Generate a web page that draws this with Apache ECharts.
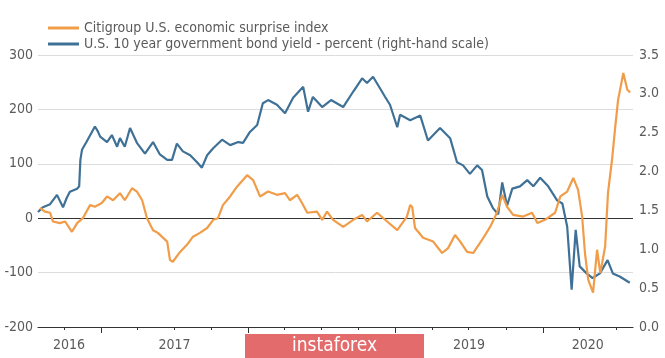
<!DOCTYPE html>
<html>
<head>
<meta charset="utf-8">
<script src="https://cdn.jsdelivr.net/npm/echarts@6/dist/echarts.min.js"></script>
<style>
html,body{margin:0;padding:0;background:#fff;}
#chart{width:665px;height:358px;}
</style>
</head>
<body>
<div id="chart"></div>
<script>
// ---- data ----
var citiName = 'Citigroup U.S. economic surprise index';
var yieldName = 'U.S. 10 year government bond yield - percent (right-hand scale)';

var citiDates = ['2016-08-03','2016-08-15','2016-08-28','2016-09-04','2016-09-21','2016-10-04','2016-10-21','2016-11-03','2016-11-17','2016-12-05','2016-12-17','2017-01-03','2017-01-16','2017-01-31','2017-02-17','2017-03-01','2017-03-19','2017-03-31','2017-04-13','2017-04-25','2017-05-10','2017-05-22','2017-06-14','2017-06-21','2017-06-28','2017-07-16','2017-08-02','2017-08-17','2017-09-03','2017-09-21','2017-10-06','2017-10-18','2017-10-30','2017-11-17','2017-12-04','2017-12-29','2018-01-13','2018-01-30','2018-02-19','2018-03-13','2018-04-02','2018-04-14','2018-05-02','2018-05-14','2018-05-27','2018-06-20','2018-07-03','2018-07-15','2018-07-30','2018-08-24','2018-09-18','2018-10-10','2018-10-22','2018-11-16','2018-12-11','2019-01-05','2019-01-29','2019-02-06','2019-02-11','2019-02-18','2019-03-10','2019-04-04','2019-04-26','2019-05-11','2019-05-28','2019-06-10','2019-06-27','2019-07-12','2019-08-03','2019-08-23','2019-09-09','2019-09-22','2019-10-04','2019-10-19','2019-11-13','2019-12-05','2019-12-18','2020-01-06','2020-01-31','2020-02-13','2020-03-01','2020-03-16','2020-03-28','2020-04-07','2020-04-14','2020-04-22','2020-05-04','2020-05-14','2020-05-22','2020-06-03','2020-06-10','2020-06-20','2020-06-28','2020-07-05','2020-07-18','2020-07-28','2020-08-04'];
var citiValues = [19,12,10,-6,-9,-6,-25,-9,0,24,21,28,40,33,46,33,55,49,33,0,-22,-27,-43,-77,-80,-62,-49,-34,-27,-18,-3,0,24,40,58,79,70,40,49,43,46,33,43,28,10,12,-3,12,-3,-16,-3,6,-6,10,-6,-22,3,24,21,-18,-36,-43,-64,-55,-31,-43,-62,-64,-40,-16,10,43,21,6,3,10,-9,-3,10,40,49,74,52,3,-64,-113,-137,-58,-101,-52,46,107,168,217,267,236,231];

var yieldDates = ['2016-07-29','2016-08-10','2016-08-28','2016-09-14','2016-09-29','2016-10-08','2016-10-16','2016-11-03','2016-11-08','2016-11-11','2016-11-15','2016-11-26','2016-12-17','2016-12-24','2016-12-30','2017-01-16','2017-01-28','2017-02-10','2017-02-17','2017-03-01','2017-03-14','2017-03-31','2017-04-20','2017-05-10','2017-05-27','2017-06-14','2017-06-26','2017-07-08','2017-07-23','2017-08-10','2017-08-27','2017-09-08','2017-09-21','2017-10-06','2017-10-28','2017-11-17','2017-12-07','2017-12-19','2018-01-05','2018-01-23','2018-02-06','2018-02-19','2018-03-13','2018-04-02','2018-04-22','2018-05-17','2018-05-29','2018-06-10','2018-07-03','2018-07-25','2018-08-24','2018-09-18','2018-10-10','2018-10-22','2018-11-06','2018-11-28','2018-12-06','2018-12-18','2019-01-05','2019-01-12','2019-02-06','2019-03-03','2019-03-22','2019-04-21','2019-05-16','2019-06-02','2019-06-17','2019-07-04','2019-07-22','2019-08-03','2019-08-16','2019-08-30','2019-09-12','2019-09-22','2019-10-04','2019-10-17','2019-11-05','2019-11-23','2019-12-08','2019-12-25','2020-01-14','2020-02-05','2020-02-18','2020-03-01','2020-03-12','2020-03-22','2020-04-01','2020-04-18','2020-05-03','2020-05-21','2020-06-09','2020-06-22','2020-07-09','2020-08-03'];
var yieldValues = [1.48,1.54,1.58,1.70,1.54,1.66,1.74,1.78,1.81,2.15,2.28,2.38,2.58,2.52,2.45,2.38,2.47,2.32,2.43,2.32,2.56,2.37,2.23,2.38,2.22,2.15,2.15,2.36,2.26,2.21,2.12,2.05,2.21,2.30,2.41,2.34,2.38,2.37,2.51,2.60,2.88,2.92,2.86,2.75,2.95,3.09,2.77,2.96,2.83,2.92,2.83,3.03,3.20,3.14,3.22,3.03,2.96,2.86,2.57,2.73,2.66,2.72,2.40,2.56,2.43,2.12,2.08,1.97,2.08,2.02,1.68,1.53,1.45,1.86,1.56,1.78,1.81,1.89,1.81,1.92,1.81,1.63,1.59,1.29,0.48,1.25,0.78,0.69,0.63,0.69,0.86,0.69,0.65,0.57];

var leftTicks = [-200,-100,0,100,200,300];
var rightTicks = ['0.0','0.5','1.0','1.5','2.0','2.5','3.0','3.5'];
var yearLabels = ['2016','2017','2018','2019','2020'];
var yearLabelDates = ['2016-10-14','2017-07-02','2018-07-02','2019-07-02','2020-04-21'];
var quarterTickDates = ['2016-10-01','2017-04-01','2017-07-01','2017-10-01','2018-04-01','2018-07-01','2018-10-01','2019-04-01','2019-07-01','2019-10-01','2020-04-01','2020-07-01'];
var yearTickDates = ['2017-01-01','2018-01-01','2019-01-01','2020-01-01'];
var axisStart = '2016-07-29';
var axisEnd = '2020-08-11';

// ---- build ----
function ts(s){ return new Date(s + 'T00:00:00Z').getTime(); }
function pairs(d, v){ return d.map(function(x,i){ return [ts(x), v[i]]; }); }

var FONT = "'Liberation Sans Narrow','DejaVu Sans Condensed','Arial Narrow',Arial,sans-serif";
var labelColor = '#5a5a5a';

var chart = echarts.init(document.getElementById('chart'), null, {renderer:'canvas'});
var option = {
  animation: false,
  backgroundColor: '#ffffff',
  textStyle: {fontFamily: FONT},
  grid: {left: 38, right: 32, top: 55, bottom: 31, containLabel: false},
  legend: {
    orient: 'vertical', left: 43, top: 16, itemWidth: 31, itemHeight: 3, itemGap: 2,
    icon: 'rect', selectedMode: false,
    data: [citiName, yieldName],
    textStyle: {fontFamily: FONT, fontSize: 14, color: labelColor}
  },
  xAxis: [{
    type: 'value', min: ts(axisStart), max: ts(axisEnd), position: 'bottom',
    axisLine: {show: true, onZero: false, lineStyle: {color: '#333', width: 1.2}},
    axisTick: {show: true, length: 3, lineStyle: {color: '#333'}, customValues: quarterTickDates.map(ts)},
    axisLabel: {show: true, margin: 11, fontFamily: FONT, fontSize: 14, color: labelColor,
      customValues: yearLabelDates.map(ts),
      formatter: function(v){ var y = String(new Date(v).getUTCFullYear()); var i = yearLabels.indexOf(y); return i >= 0 ? yearLabels[i] : ''; }},
    splitLine: {show: false}
  },{
    type: 'value', min: ts(axisStart), max: ts(axisEnd), position: 'bottom',
    axisLine: {show: false, onZero: false},
    axisTick: {show: true, length: 6, lineStyle: {color: '#333'}, customValues: yearTickDates.map(ts)},
    axisLabel: {show: false},
    splitLine: {show: false}
  }],
  yAxis: [{
    type: 'value', min: leftTicks[0], max: leftTicks[leftTicks.length-1], interval: 100, position: 'left',
    axisLine: {show: false}, axisTick: {show: false},
    axisLabel: {margin: 5, fontFamily: FONT, fontSize: 14, color: labelColor},
    splitLine: {show: true, lineStyle: {color: ['#333','#dcdcdc','#333','#dcdcdc','#dcdcdc','#dcdcdc'], width: 1}}
  },{
    type: 'value', min: 0, max: 3.5, interval: 0.5, position: 'right',
    axisLine: {show: false}, axisTick: {show: false},
    axisLabel: {margin: 6, fontFamily: FONT, fontSize: 14, color: labelColor,
      formatter: function(v){ return rightTicks[Math.round(v*2)]; }},
    splitLine: {show: false}
  }],
  series: [{
    name: yieldName, type: 'line', yAxisIndex: 1, xAxisIndex: 0,
    data: pairs(yieldDates, yieldValues), showSymbol: false, symbol: 'none',
    lineStyle: {color: '#3f7196', width: 2.2}, itemStyle: {color: '#3f7196'}, z: 3
  },{
    name: citiName, type: 'line', yAxisIndex: 0, xAxisIndex: 0,
    data: pairs(citiDates, citiValues), showSymbol: false, symbol: 'none',
    lineStyle: {color: '#f09c48', width: 2.2}, itemStyle: {color: '#f09c48'}, z: 4
  }],
  graphic: [
    {type: 'rect', z: 100, zlevel: 1, shape: {x: 245, y: 334, width: 179, height: 24}, style: {fill: '#e36b6b'}},
    {type: 'text', z: 101, zlevel: 1, x: 334.5, y: 346, style: {text: 'instaforex', fill: '#ffffff', font: "19px " + FONT, textAlign: 'center', textVerticalAlign: 'middle'}}
  ]
};
chart.setOption(option);
</script>
</body>
</html>
